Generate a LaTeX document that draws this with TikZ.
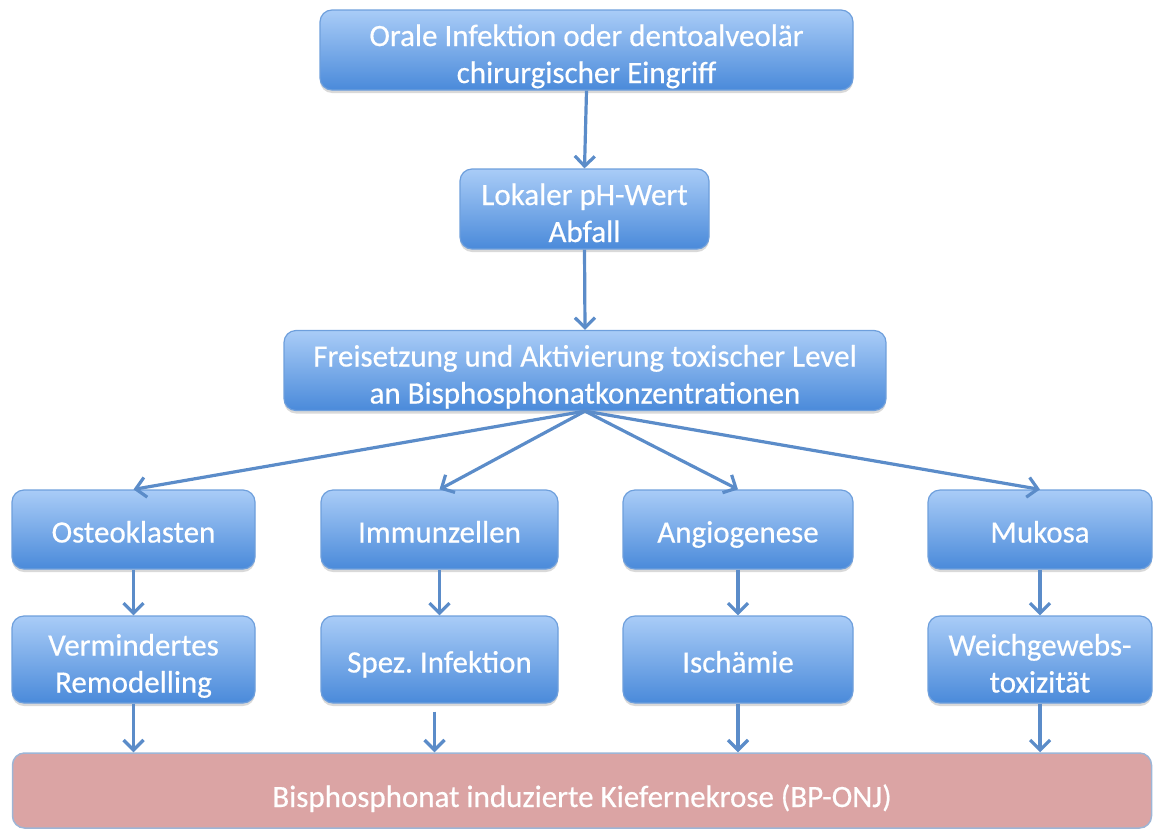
\documentclass[tikz,border=0pt]{standalone}
\usepackage{fontspec}
\setmainfont{Carlito}
\newfontfamily\boxfont{Carlito}[FakeBold=0.5]
\usetikzlibrary{arrows.meta,shadows}
\definecolor{boxtop}{HTML}{A9CCF7}
\definecolor{boxbot}{HTML}{4A8ADA}
\definecolor{boxline}{HTML}{6E9FDC}
\definecolor{arr}{HTML}{5B8CC9}
\definecolor{pinkfill}{HTML}{DBA4A4}
\definecolor{pinkline}{HTML}{9DB5D6}
\newcommand{\boxstrut}{\rule[-11pt]{0pt}{48pt}}
\newcommand{\pinkstrut}{\rule[-11pt]{0pt}{55pt}}
\newcommand{\topstrut}{\rule{0pt}{36pt}}
\newcommand{\botstrut}{\rule[-7pt]{0pt}{7pt}}
\frenchspacing
\begin{document}
\begin{tikzpicture}[x=1pt,y=-1pt,
  bx/.style={draw=boxline, line width=1.2pt, rounded corners=12pt,
    top color=boxtop, bottom color=boxbot, text=white, align=center,
    font=\boxfont\fontsize{31}{37}\selectfont, inner sep=0pt,
    drop shadow={opacity=0.3, shadow xshift=0pt, shadow yshift=-3pt}},
  single/.style={bx, execute at begin node=\boxstrut},
  endbox/.style={draw=pinkline, line width=1.5pt, rounded corners=12pt,
    fill=pinkfill, text=white, align=center,
    font=\boxfont\fontsize{31}{37}\selectfont, inner sep=0pt,
    execute at begin node=\pinkstrut},
  ar/.style={draw=arr, line width=3.2pt,
    -{Straight Barb[length=10pt,width=20pt]}}]
\useasboundingbox (0,0) rectangle (1153,830);

\node[bx, minimum width=533pt, minimum height=76pt] (orale) at (586.5,50)
  {\topstrut Orale Infektion oder dentoalveolär\\chirurgischer Eingriff\botstrut};
\node[bx, minimum width=249pt, minimum height=74pt] (ph) at (584.5,209)
  {\topstrut Lokaler pH-Wert\\Abfall\botstrut};
\node[bx, minimum width=602pt, minimum height=75pt] (frei) at (585,370.5)
  {\topstrut Freisetzung und Aktivierung toxischer Level\\an Bisphosphonatkonzentrationen\botstrut};

\node[single, minimum width=243pt, minimum height=79pt] (ost) at (133.5,529.5) {Osteoklasten};
\node[single, minimum width=237pt, minimum height=79pt] (imm) at (439.5,529.5) {Immunzellen};
\node[single, minimum width=230pt, minimum height=79pt] (ang) at (738,529.5) {Angiogenese};
\node[single, minimum width=224pt, minimum height=79pt] (muk) at (1040,529.5) {Mukosa};

\node[bx, minimum width=243pt, minimum height=87pt] (ver) at (133.5,659.5)
  {\topstrut Vermindertes\\Remodelling\botstrut};
\node[single, minimum width=237pt, minimum height=87pt] (spez) at (439.5,659.5) {Spez.\ Infektion};
\node[single, minimum width=230pt, minimum height=87pt] (isch) at (738,659.5) {Ischämie};
\node[bx, minimum width=224pt, minimum height=87pt] (weich) at (1040,659.5)
  {\topstrut Weichgewebs-\\toxizität\botstrut};

\node[endbox, minimum width=1139pt, minimum height=75pt] (bp) at (582,790.5)
  {Bisphosphonat induzierte Kiefernekrose (BP-ONJ)};

\draw[ar] (orale.south) -- (ph.north);
\draw[ar] (ph.south) -- (frei.north);
\draw[ar] (frei.south) -- (ost.north);
\draw[ar] (frei.south) -- (imm.north);
\draw[ar] (frei.south) -- (ang.north);
\draw[ar] (frei.south) -- (muk.north);
\draw[ar] (ost.south) -- (ver.north);
\draw[ar] (imm.south) -- (spez.north);
\draw[ar] (ang.south) -- (isch.north);
\draw[ar] (muk.south) -- (weich.north);
\draw[ar] (ver.south) -- (ver.south |- bp.north);
\draw[ar] ([xshift=-5pt,yshift=-8pt]spez.south) -- ([xshift=-5pt]spez.south |- bp.north);
\draw[ar] (isch.south) -- (isch.south |- bp.north);
\draw[ar] (weich.south) -- (weich.south |- bp.north);
\end{tikzpicture}
\end{document}
